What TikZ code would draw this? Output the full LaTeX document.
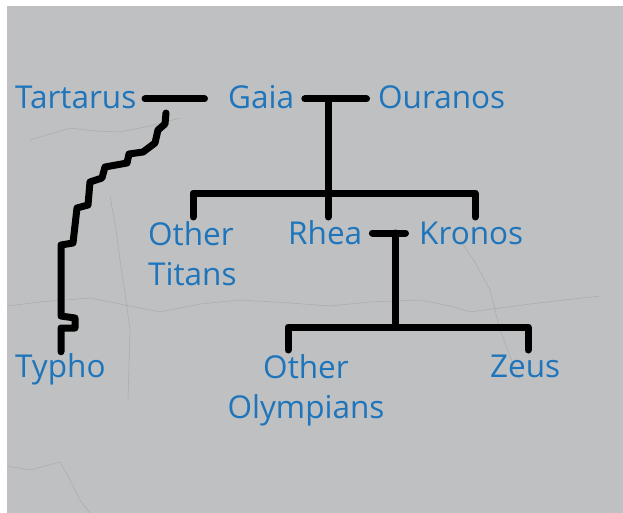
\documentclass[tikz,border=0pt]{standalone}
\usepackage{fontspec}
\setmainfont{Open Sans}
\usetikzlibrary{positioning,calc}
\definecolor{stone}{RGB}{190,192,194}
\definecolor{crack}{RGB}{120,118,112}
\definecolor{godblue}{RGB}{30,117,187}

\tikzset{
  god/.style={inner sep=0pt, text=godblue, font=\fontsize{31.5}{40}\selectfont},
  single/.style={god, text height=25pt, text depth=5pt, anchor=base west},
  bond/.style={line width=7pt, line cap=round, line join=round, black},
  fissure/.style={crack, line width=0.6pt, opacity=0.25}
}

\begin{document}
\begin{tikzpicture}[x=1pt, y=-1pt]
    % stone slab
    \useasboundingbox (0,0) rectangle (623,513);
    \fill[white] (0,0) rectangle (623,513);
    \fill[stone] (7,6) rectangle (623,513);
    \draw[fissure] (7,306) -- (40,302) -- (90,298) -- (130,306) -- (160,312) -- (200,304) -- (240,300) -- (290,303) -- (330,306) -- (370,302) -- (420,300) -- (450,306) -- (470,312) -- (530,304) -- (600,296);
    \draw[fissure] (30,140) -- (50,134) -- (70,128) -- (95,131) -- (120,132) -- (150,126) -- (180,118);
    \draw[fissure] (110,196) -- (116,230) -- (120,260) -- (126,300) -- (130,330) -- (128,400);
    \draw[fissure] (7,466) -- (30,470) -- (60,462) -- (70,480) -- (80,500) -- (90,513);
    \draw[fissure] (460,240) -- (475,262) -- (490,290) -- (500,330) -- (510,356) -- (520,380);

    % gods
    \node[single] (tartarus) at (15,109) {Tartarus};
    \node[single] (gaia) at (228,109) {Gaia};
    \node[single] (ouranos) at (378,109) {Ouranos};
    \node[single] (rhea) at (288,244) {Rhea};
    \node[single] (kronos) at (419,244) {Kronos};
    \node[single] (zeus) at (490,377) {Zeus};
    \node[single] (typho) at (15,377) {Typho};
    \node[god, anchor=north west, align=left] (titans) at (148,221) {Other\\Titans};
    \node[god, anchor=north, align=center] (olympians) at (306,354) {Other\\Olympians};

    % junctions
    \coordinate (couple1) at (328,100);
    \coordinate (kids1) at (328,193);
    \coordinate (couple2) at (395,233);
    \coordinate (kids2) at (395,327);

    % first generation
    \draw[bond] ([xshift=8.5pt]tartarus.east) -- ([xshift=-23.5pt]gaia.west);
    \draw[bond] ([xshift=10.5pt]gaia.east) -- ([xshift=-11.5pt]ouranos.west);
    \draw[bond] (couple1) -- (kids1);
    \draw[bond] (193,0 |- titans.north) ++(0,-4) |- (kids1) -| (475,217);
    \draw[bond] (kids1) -- (328,217);

    % second generation
    \draw[bond] ([xshift=10pt]rhea.east |- couple2) -- ([xshift=-13.5pt]kronos.west |- couple2);
    \draw[bond] (couple2) -- (kids2);
    \draw[bond] (288,350) |- (kids2) -| (528,350);

    % Typho
    \draw[bond] (166,113) -- (165,124) -- (158,130) -- (155,143) -- (143,152)
      -- (129,154) -- (127,163) -- (105,167) -- (102,178) -- (90,182)
      -- (88,205) -- (77,208) -- (73,243) -- (61,245) -- (61,316)
      -- (75,318) -- (75,328) -- (61,328) -- (61,0 |- typho.north);
\end{tikzpicture}
\end{document}
